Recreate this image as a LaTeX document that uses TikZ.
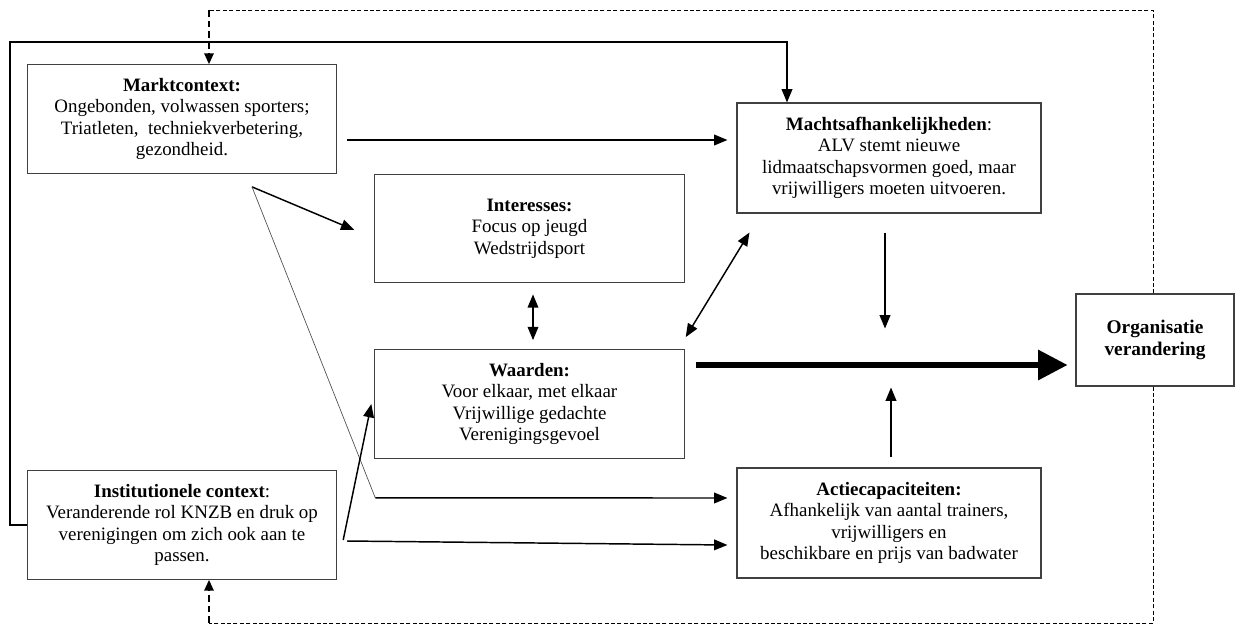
\documentclass[tikz,border=0pt]{standalone}
\usepackage{fontspec}
\setmainfont{Liberation Serif}
\usepackage{tikz}
\usetikzlibrary{arrows.meta,calc}

\begin{document}
\begin{tikzpicture}[
  x=0.75pt, y=-0.75pt,
  font=\fontsize{14.2}{16}\selectfont,
  box/.style={draw=black!75, line width=0.8pt, align=center, inner sep=2pt},
  wide/.style={box, minimum width=232pt, minimum height=81.5pt},
  arr/.style={-{Triangle[length=10pt,width=8pt]}, line width=1.1pt},
  both/.style={{Triangle[length=10pt,width=8pt]}-{Triangle[length=10pt,width=8pt]}, line width=1.1pt},
  loop/.style={dashed, dash pattern=on 3pt off 1.8pt, line width=0.6pt},
  loophead/.style={dash pattern=on 5pt off 3pt, line width=1.2pt, -{Triangle[length=8pt,width=7pt]}}
]
  \useasboundingbox (0,0) rectangle (1235,626);

  % boxes
  \node[wide] (markt) at (182,119) {\textbf{Marktcontext:}\\Ongebonden, volwassen sporters;\\Triatleten,\ \ techniekverbetering,\\gezondheid.};
  \node[wide, minimum width=228pt, minimum height=82.5pt] (macht) at (889,158) {\textbf{Machtsafhankelijkheden}:\\ALV stemt nieuwe\\lidmaatschapsvormen goed, maar\\vrijwilligers moeten uitvoeren.};
  \node[wide] (inter) at (529.5,228.5) {\textbf{Interesses:}\\Focus op jeugd\\Wedstrijdsport};
  \node[wide] (waard) at (529.5,404) {\textbf{Waarden:}\\Voor elkaar, met elkaar\\Vrijwillige gedachte\\Verenigingsgevoel};
  \node[wide] (inst) at (182,525) {\textbf{Institutionele context}:\\Veranderende rol KNZB en druk op\\verenigingen om zich ook aan te\\passen.};
  \node[wide, minimum width=228pt, minimum height=82.5pt] (actie) at (889,523) {\textbf{Actiecapaciteiten:}\\Afhankelijk van aantal trainers,\\vrijwilligers en\\beschikbare en prijs van badwater};
  \node[box, minimum width=118.5pt, minimum height=69pt, font=\fontsize{14.5}{17}\selectfont\bfseries] (org) at (1155,340) {Organisatie\\verandering};

  % helper points
  \coordinate (fork) at ($(markt.south)+(70,13)$);
  \coordinate (bend) at ($(waard.south west)+(1,39)$);
  \coordinate (outl) at (10,42);
  \coordinate (outr) at (787,42);
  \coordinate (fbtr) at (1153,10);
  \coordinate (fbtl) at (209,10);
  \coordinate (fbbr) at (1153,623);
  \coordinate (fbbl) at (209,623);

  % connectors
  \draw[arr] ($(markt.east)+(10,21)$) -- ($(macht.west)+(-9,-18)$);
  \draw[arr] (fork) -- ($(inter.west)+(-20,1.5)$);
  \draw[line width=0.5pt, black!70] (fork) -- (bend);
  \draw[arr] (bend) -- ($(actie.west)+(-9,-25)$);
  \draw[arr] ($(inst.east)+(6,15)$) -- ($(waard.west)+(-3,0)$);
  \draw[arr] ($(inst.east)+(10,16)$) -- ($(actie.west)+(-9,22)$);
  \draw[both] ($(inter.south)+(3.5,11)$) -- ($(waard.north)+(3.5,-9)$);
  \draw[both] ($(waard.north east)+(1,-12)$) -- ($(macht.south west)+(13,19)$);
  \draw[arr] ($(macht.south)+(-4,19)$) -- ($(macht.south)+(-4,115)$);
  \draw[arr] ($(actie.north)+(2,-10)$) -- ($(actie.north)+(2,-80)$);
  \draw[line width=3.8pt, -{Triangle[length=22pt,width=22pt]}] ($(waard.east)+(11,-39)$) -- ($(org.west)+(-8,25)$);
  \draw[arr] (inst.west) -| (outl) -- (outr) -- (outr |- macht.north);

  % feedback loops
  \draw[loop] (org.north -| fbtr) -- (fbtr) -- (fbtl);
  \draw[loophead] (fbtl) -- (fbtl |- markt.north);
  \draw[loop] (org.south -| fbbr) -- (fbbr) -- (fbbl);
  \draw[loophead] (fbbl) -- (fbbl |- inst.south);
\end{tikzpicture}
\end{document}
